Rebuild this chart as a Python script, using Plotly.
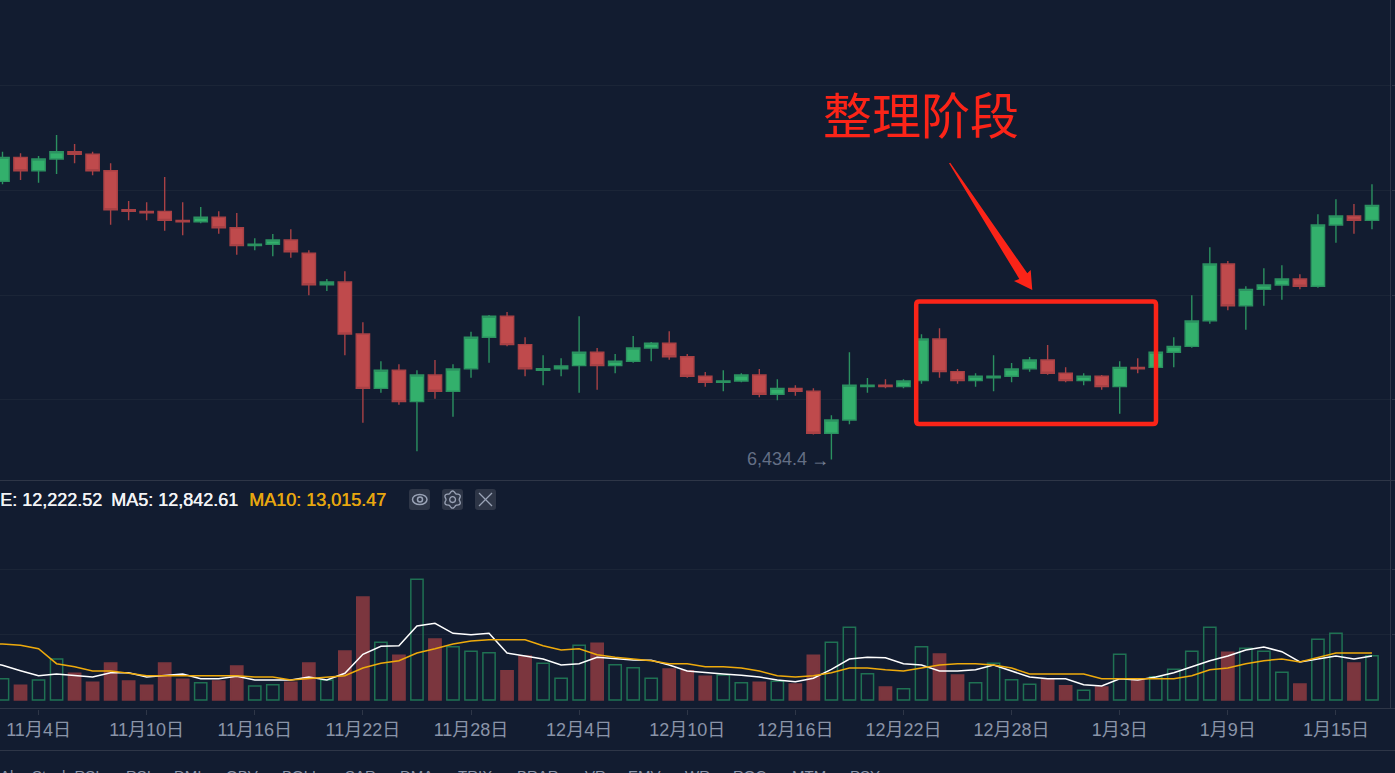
import math
import pandas as pd
import plotly.graph_objects as go

W, H = 1395, 773

dates = pd.date_range("2019-11-02", periods=77, freq="D").strftime("%Y-%m-%d").tolist()
line_dates = ["2019-11-01"] + dates

opens = [9083,9311,9184,9295,9365,9340,9184,8812,8797,8797,8711,8698,8740,8641,8470,8483,8524,8397,8098,8124,
         7629,7111,7283,6984,7238,7083,7298,7597,7797,7527,7283,7298,7327,7454,7327,7369,7495,7540,7412,7226,
         7169,7181,7238,7054,7111,7083,6683,6810,7127,7140,7127,7184,7581,7270,7184,7212,7226,7298,7381,7254,
         7184,7226,7127,7311,7311,7454,7511,7755,8295,7898,8054,8095,8152,8083,8667,8752,8711]
highs = [9365,9350,9324,9524,9438,9365,9254,8895,8883,9124,8883,8838,8797,8781,8540,8581,8626,8426,8152,8226,
         7740,7369,7340,7283,7381,7340,7650,7810,7838,7597,7426,7397,7797,7495,7438,7610,7552,7654,7438,7267,
         7283,7254,7295,7197,7140,7111,6854,7454,7210,7197,7197,7626,7683,7295,7254,7426,7352,7410,7524,7311,
         7254,7238,7369,7397,7470,7597,7997,8454,8324,8083,8254,8283,8197,8769,8911,8867,9054]
lows = [9054,9095,9070,9152,9254,9140,8670,8711,8711,8612,8569,8683,8584,8384,8426,8369,8355,7997,8038,7426,
        6784,7070,6955,6511,7012,6841,7212,7355,7511,7226,7140,7226,7070,7098,7254,7355,7369,7384,7212,7127,
        7083,7169,7026,6997,7041,6670,6434,6769,7070,7111,7111,7155,7212,7155,7127,7083,7169,7270,7241,7169,
        7140,7098,6870,7254,7300,7311,7498,7727,7854,7670,7898,7955,8054,8070,8498,8584,8626]
closes = [9311,9184,9295,9365,9340,9184,8812,8797,8784,8711,8698,8740,8641,8470,8483,8524,8412,8098,8124,7629,
          7111,7283,6984,7238,7083,7295,7597,7797,7527,7298,7298,7324,7454,7327,7369,7495,7540,7412,7226,7169,
          7181,7238,7054,7111,7083,6683,6810,7140,7140,7127,7181,7581,7270,7184,7226,7226,7295,7381,7254,7184,
          7226,7127,7311,7298,7454,7511,7752,8295,7898,8054,8095,8152,8083,8667,8752,8711,8854]

volumes = [6454,4454,6060,12423,8090,5363,11211,5757,4454,11211,6272,5242,5757,10302,4242,4636,5363,11211,6060,14847,
           31209,17483,13544,36572,18483,16150,14756,14332,8878,13332,11120,6575,16574,17180,10696,9787,6575,9393,8878,7181,
           7575,5242,5363,5666,4848,13544,17483,22028,7969,3939,3424,16150,13938,7575,5242,11120,6151,4757,6151,4333,
           2939,3939,13847,6151,7060,9302,14756,22028,14453,15665,14756,8393,4848,18392,20210,11211,13423]
ma5 = [11700,10510,8880,7360,7880,7360,6970,8270,8270,6970,7480,7880,6450,6450,7180,6060,6060,6060,6970,6060,8090,
       13850,16270,16450,22420,23240,20210,19790,20210,14240,13330,12420,10610,11000,12940,12420,12120,12030,10610,8790,8270,
       7880,7480,6970,6060,5540,6580,9300,12420,12940,12820,11000,10610,8790,8790,9180,10610,8790,6970,6450,6450,
       4640,4240,6450,6060,6970,8270,10090,11910,13330,15150,16060,14630,11510,12420,13330,12420,13330]
ma10 = [17100,16970,16570,15540,11000,10090,8790,8790,8090,7360,7360,7360,7360,7360,7360,6970,6970,6060,6450,6970,7360,
        9700,11120,11910,14240,15540,16970,17880,18270,18270,18270,16450,15150,15540,13730,12940,12510,11910,11000,11000,10090,
        10090,9700,8790,7360,6970,7360,8270,9700,9700,9180,8790,9700,10610,11000,11000,10610,9700,7880,7880,7880,
        7880,6450,6450,6450,6450,6450,7360,9180,9700,11000,11910,12420,11510,12820,14240,14240,14240]

tick_dates = ["2019-11-04","2019-11-10","2019-11-16","2019-11-22","2019-11-28","2019-12-04","2019-12-10",
              "2019-12-16","2019-12-22","2019-12-28","2020-01-03","2020-01-09","2020-01-15"]
tick_labels = ["11月4日","11月10日","11月16日","11月22日","11月28日","12月4日","12月10日",
               "12月16日","12月22日","12月28日","1月3日","1月9日","1月15日"]
price_grid = [7000, 8000, 9000, 10000]
volume_grid = [19900, 39500]
indicator_tabs = [("Al",0),("Stoch RSI",32),("RSI",126),("DMI",174),("OBV",226),("BOLL",282),("SAR",345),("DMA",400),
                  ("TRIX",458),("BRAR",517),("VR",585),("EMV",628),("WR",685),("ROC",733),("MTM",792),("PSY",850)]

BG = "#121c30"
GRID = "#1b2537"
AXIS = "#2e3647"
UP, UP_LINE = "#33b06c", "#2b9160"
DOWN, DOWN_LINE = "#bf4a4c", "#a84145"
VOL_UP = "#1f7153"
VOL_DOWN = "#7b363e"
FONT = "Liberation Sans, Noto Sans CJK SC, sans-serif"


def px(x, y):
    return x / W, 1 - y / H


def path(points, close=False):
    s = "M" + " L".join("{:.5f},{:.5f}".format(*px(*p)) for p in points)
    return s + (" Z" if close else "")


def rounded(x0, y0, x1, y1, r):
    a = lambda x, y: "{:.5f},{:.5f}".format(*px(x, y))
    return (f"M{a(x0+r,y0)} L{a(x1-r,y0)} Q{a(x1,y0)} {a(x1,y0+r)} L{a(x1,y1-r)} Q{a(x1,y1)} {a(x1-r,y1)} "
            f"L{a(x0+r,y1)} Q{a(x0,y1)} {a(x0,y1-r)} L{a(x0,y0+r)} Q{a(x0,y0)} {a(x0+r,y0)} Z")


def shape_path(d, line=None, fill=None, width=1.5):
    return dict(type="path", xref="paper", yref="paper", path=d, layer="above",
                line=dict(color=line or "rgba(0,0,0,0)", width=width if line else 0),
                fillcolor=fill or "rgba(0,0,0,0)")


def label(text, x, y, color, size, xanchor="left", family=FONT, shadow=None):
    fx, fy = px(x, y)
    font = dict(family=family, size=size, color=color)
    if shadow:
        font["shadow"] = shadow
    return dict(text=text, x=fx, y=fy, xref="paper", yref="paper", showarrow=False, xanchor=xanchor, yanchor="middle",
                font=font, borderpad=0, borderwidth=0)


is_up = [c >= o for c, o in zip(closes, opens)]

fig = go.Figure()
fig.add_trace(go.Candlestick(
    x=dates, open=opens, high=highs, low=lows, close=closes, xaxis="x", yaxis="y", whiskerwidth=0,
    increasing=dict(line=dict(color=UP_LINE, width=1.4), fillcolor=UP),
    decreasing=dict(line=dict(color=DOWN_LINE, width=1.4), fillcolor=DOWN), showlegend=False))
fig.add_trace(go.Bar(
    x=dates, y=volumes, xaxis="x2", yaxis="y2", width=0.68 * 86400000, showlegend=False,
    marker=dict(color=["rgba(0,0,0,0)" if u else VOL_DOWN for u in is_up],
                line=dict(color=[VOL_UP if u else VOL_DOWN for u in is_up], width=1.5))))
fig.add_trace(go.Scatter(x=line_dates, y=ma5, mode="lines", xaxis="x2", yaxis="y2", showlegend=False,
                         line=dict(color="#ffffff", width=1.5)))
fig.add_trace(go.Scatter(x=line_dates, y=ma10, mode="lines", xaxis="x2", yaxis="y2", showlegend=False,
                         line=dict(color="#eeaa0c", width=1.5)))

x_range = ["2019-11-01 20:40", "2020-01-18 00:40"]
plot_right = 1390.5 / W

shapes = [
    dict(type="line", xref="paper", yref="paper", x0=0, x1=1, y0=px(0, 480.5)[1], y1=px(0, 480.5)[1],
         line=dict(color=AXIS, width=1), layer="above"),
    dict(type="line", xref="paper", yref="paper", x0=0, x1=1, y0=px(0, 708.5)[1], y1=px(0, 708.5)[1],
         line=dict(color=AXIS, width=1), layer="above"),
    dict(type="line", xref="paper", yref="paper", x0=0, x1=1, y0=px(0, 750.5)[1], y1=px(0, 750.5)[1],
         line=dict(color=AXIS, width=1), layer="above"),
    dict(type="line", xref="paper", yref="paper", x0=plot_right, x1=plot_right, y0=px(0, 708.5)[1], y1=1,
         line=dict(color=AXIS, width=1), layer="above"),
    shape_path(rounded(916.2, 301.5, 1156, 424, 3), line="#fb2418", width=4.5),
    shape_path(path([(949, 163.3), (950.2, 162.8), (1027.3, 273.3), (1030.7, 270), (1032.3, 290), (1014, 281), (1019.3, 279)], True),
               fill="#fb2418"),
    shape_path(rounded(409, 489, 430, 510, 3), fill="#2e3647"),
    shape_path(rounded(442, 489, 463, 510, 3), fill="#2e3647"),
    shape_path(rounded(475, 489, 496, 510, 3), fill="#2e3647"),
    dict(type="circle", xref="paper", yref="paper", x0=px(412.5, 0)[0], x1=px(427, 0)[0],
         y0=px(0, 494.5)[1], y1=px(0, 504.5)[1], line=dict(color="#9aa3b6", width=1.5), layer="above"),
    dict(type="circle", xref="paper", yref="paper", x0=px(417.5, 0)[0], x1=px(422.5, 0)[0],
         y0=px(0, 497)[1], y1=px(0, 502)[1], line=dict(color="#9aa3b6", width=1.5), layer="above"),
    dict(type="circle", xref="paper", yref="paper", x0=px(449.7, 0)[0], x1=px(455.5, 0)[0],
         y0=px(0, 496.7)[1], y1=px(0, 502.5)[1], line=dict(color="#9aa3b6", width=1.3), layer="above"),
    shape_path(path([(479, 493), (492, 506)]), line="#9aa3b6", width=1.3),
    shape_path(path([(492, 493), (479, 506)]), line="#9aa3b6", width=1.3),
]
gear = []
for k in range(72):
    t = 2 * math.pi * k / 72
    r = 7.6 + 1.0 * math.cos(6 * t)
    gear.append((452.6 + r * math.sin(t), 499.6 - r * math.cos(t)))
shapes.append(shape_path(path(gear, True), line="#9aa3b6", width=1.3))

annotations = [
    label("整理阶段", 921, 112.5, "#fb2418", 49, "center", "Noto Sans CJK SC"),
    label("6,434.4", 747, 459, "#646f85", 18),
    label("→", 820, 460, "#7a8499", 18, "center"),
    label("E: 12,222.52", 102, 500, "#f3f4f6", 18, "right", shadow="0.4px 0 0 #f3f4f6"),
    label("MA5: 12,842.61", 111, 500, "#f3f4f6", 18, shadow="0.4px 0 0 #f3f4f6"),
    label("MA10: 13,015.47", 249, 500, "#e7a70f", 18, shadow="0.4px 0 0 #e7a70f"),
]
for name, x in indicator_tabs:
    annotations.append(label(name, x, 775, "#8a94a8", 15))

fig.update_layout(
    width=W, height=H, margin=dict(l=0, r=0, t=0, b=0), paper_bgcolor=BG, plot_bgcolor=BG,
    boxgap=0.26, boxgroupgap=0, bargap=0.25, hovermode=False, showlegend=False, shapes=shapes, annotations=annotations,
    font=dict(family=FONT),
    xaxis=dict(domain=[0, plot_right], range=x_range, type="date", anchor="y", showgrid=False, showticklabels=False,
               ticks="", zeroline=False, rangeslider=dict(visible=False)),
    yaxis=dict(domain=[1 - 480.5 / H, 1], range=[6233, 10810], anchor="x", side="right", tickvals=price_grid,
               showticklabels=False, ticks="outside", ticklen=4, tickcolor=AXIS, gridcolor=GRID, gridwidth=1,
               zeroline=False),
    xaxis2=dict(domain=[0, plot_right], range=x_range, type="date", anchor="y2", showgrid=False, tickvals=tick_dates,
                ticktext=tick_labels, ticks="outside", ticklen=5, tickcolor=AXIS, zeroline=False,
                tickfont=dict(family=FONT, size=18, color="#8a94a8")),
    yaxis2=dict(domain=[1 - 708.5 / H, 1 - 481 / H], range=[-2575, 66357], anchor="x2", side="right", tickvals=volume_grid,
                showticklabels=False, ticks="outside", ticklen=4, tickcolor=AXIS, gridcolor=GRID, gridwidth=1,
                zeroline=False),
)

fig.write_html("out.html", config=dict(displayModeBar=False),
               post_script="document.body.style.margin='0';document.body.style.overflow='hidden';")
